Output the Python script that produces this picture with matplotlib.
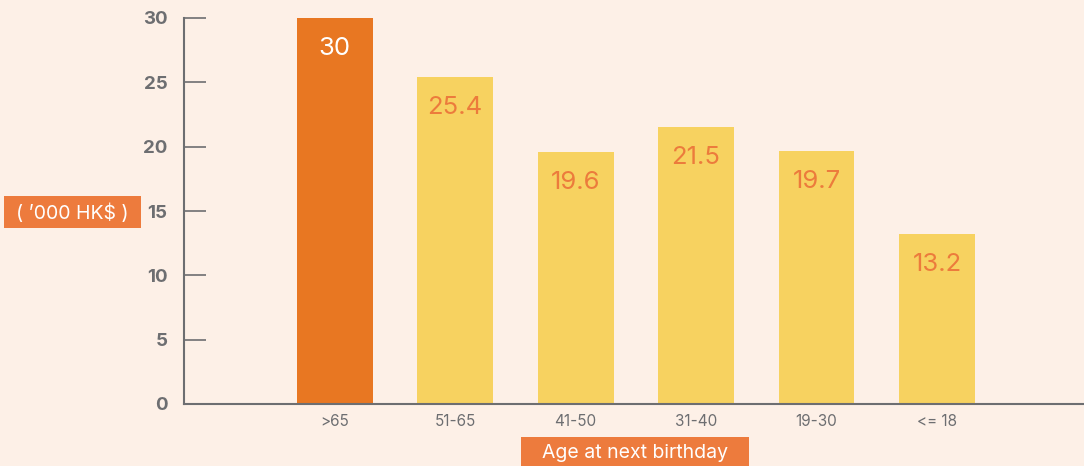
import matplotlib
matplotlib.use("Agg")
import matplotlib.pyplot as plt
from matplotlib.patches import Rectangle

# data
ages = [">65", "51-65", "41-50", "31-40", "19-30", "<= 18"]
values = [30, 25.4, 19.6, 21.5, 19.7, 13.2]
labels = ["30", "25.4", "19.6", "21.5", "19.7", "13.2"]
yticks = [0, 5, 10, 15, 20, 25, 30]

BG = "#fdf0e7"
ORANGE = "#e87722"
YELLOW = "#f7d260"
LABEL_ORANGE = "#ec7b3c"
GREY = "#6d6e71"
BOX = "#ed7b3d"

plt.rcParams["font.family"] = ["Inter", "DejaVu Sans"]

W, H = 1084, 466
fig = plt.figure(figsize=(W / 100, H / 100), dpi=100, facecolor=BG)
ax = fig.add_axes([184 / W, 62 / H, 1 - 184 / W, (404 - 18) / H])
ax.set_facecolor(BG)

x = list(range(len(ages)))
colors = [ORANGE] + [YELLOW] * (len(ages) - 1)
ax.bar(x, values, width=0.63, color=colors, zorder=2)

for xi, v, lab, c in zip(x, values, labels, colors):
    tc = "white" if c == ORANGE else LABEL_ORANGE
    ax.annotate(lab, (xi, v), xytext=(0, -22), textcoords="offset points",
                ha="center", va="center", fontsize=18.5, color=tc, zorder=3)

ax.set_xlim(-1.25, 6.22)
ax.set_ylim(0, 30)
ax.set_yticks(yticks)
ax.set_yticklabels([str(t) for t in yticks], fontsize=13.5, fontweight="bold",
                   color=GREY)
ax.tick_params(axis="y", direction="in", length=16, width=1.2, color=GREY, pad=12)
ax.set_xticks(x)
ax.set_xticklabels(ages, fontsize=11, color=GREY)
ax.tick_params(axis="x", length=0, pad=7)

for s in ["top", "right"]:
    ax.spines[s].set_visible(False)
for s in ["left", "bottom"]:
    ax.spines[s].set_color(GREY)
    ax.spines[s].set_linewidth(1.5)

# orange label boxes (pixel layout from the reference)
for (x0, y0, x1, y1) in [(4, 196, 141, 228), (521, 437, 749, 470)]:
    fig.patches.append(Rectangle((x0 / W, 1 - y1 / H), (x1 - x0) / W, (y1 - y0) / H,
                                 transform=fig.transFigure, facecolor=BOX,
                                 edgecolor="none"))
fig.text(72 / W, 1 - 213 / H, "( \u2019000 HK$ )", ha="center", va="center",
         fontsize=14, color="white")
fig.text(635 / W, 1 - 453 / H, "Age at next birthday", ha="center", va="center",
         fontsize=14, color="white")

fig.savefig("out.png", dpi=100, facecolor=BG)
